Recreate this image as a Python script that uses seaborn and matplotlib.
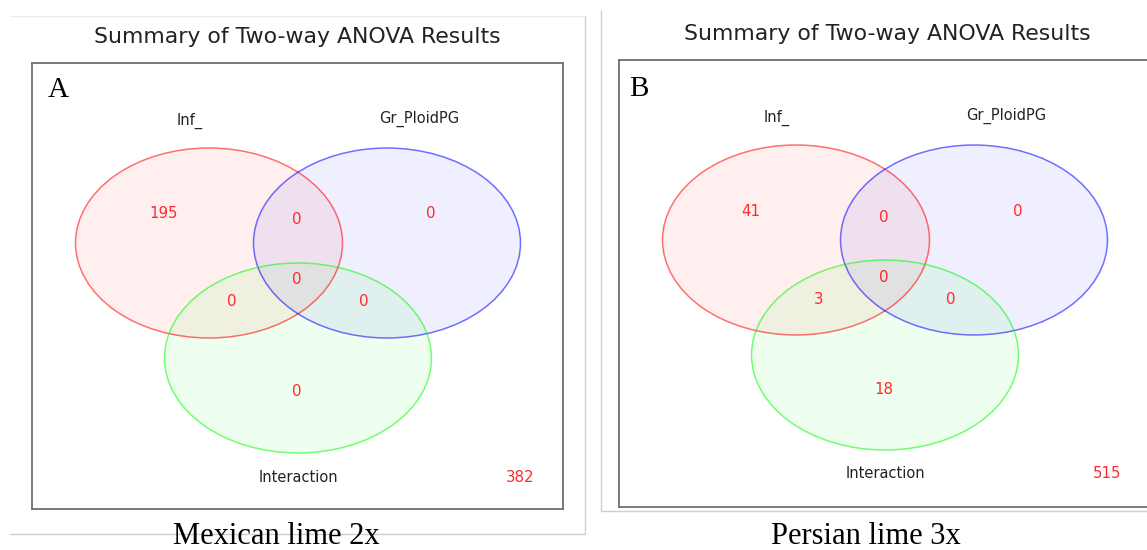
"""
Two-panel Venn summary of two-way ANOVA results (Mexican lime 2x / Persian lime 3x)
"""

import numpy as np
import matplotlib
matplotlib.use("Agg")
import matplotlib.pyplot as plt
from matplotlib.patches import Ellipse
import seaborn as sns

# ---- data ----
panel_letters = ["A", "B"]
cultivars = ["Mexican lime 2x", "Persian lime 3x"]
set_names = ["Inf_", "Gr_PloidPG", "Interaction"]
# region order: Inf_ only, Gr only, Inf_&Gr, Interaction only, Inf_&Int, Gr&Int, all three
region_keys = ["100", "010", "110", "001", "101", "011", "111"]
counts_mexican = [195, 0, 0, 0, 0, 0, 0]
counts_persian = [41, 0, 0, 18, 3, 0, 0]
outside_counts = [382, 515]
plot_title = "Summary of Two-way ANOVA Results"

sns.set_theme(style="white")
plt.rcParams['font.family'] = ['DejaVu Sans']

W, H = 1147, 550
fig = plt.figure(figsize=(W / 100, H / 100), dpi=100)


def px_rect(x0, y0, x1, y1):
    return [x0 / W, 1 - y1 / H, (x1 - x0) / W, (y1 - y0) / H]


# background axes in pixel units (frames, titles, captions)
bg = fig.add_axes([0, 0, 1, 1])
bg.set_xlim(0, W)
bg.set_ylim(H, 0)
bg.axis('off')

frame_col = '#cfcfcf'
# left screenshot frame
bg.plot([10, 585], [16, 16], color='#ececec', lw=1)
bg.plot([585, 585], [16, 534], color=frame_col, lw=1)
bg.plot([10, 585], [534, 534], color=frame_col, lw=1)
# right screenshot frame
bg.plot([601, 601, W], [10, 511, 511], color=frame_col, lw=1)

# venn layout (box-relative pixels)
set_colors = sns.color_palette(["#ff0000", "#0000ff", "#00ff00"])
centers = {"Inf_": (177, 180), "Gr_PloidPG": (355, 180), "Interaction": (266, 295)}
semi_a, semi_b = 133.5, 95
region_pos = {"100": (132, 151), "010": (399, 151), "110": (265, 157),
              "001": (265, 329), "101": (200, 239), "011": (332, 239),
              "111": (265, 217)}
label_pos = {"Inf_": (158, 58), "Gr_PloidPG": (387, 56), "Interaction": (266, 414)}
outside_pos = (488, 414)

boxes = [(32, 63, 563, 509), (619, 60, 1150, 507)]
title_xy = [(297, 37), (887, 34)]
caption_xy = [(276, 537), (866, 537)]
letter_xy = [(16, 27), (10, 29)]
all_counts = [counts_mexican, counts_persian]

num_col = '#ff2a2a'
for i in range(2):
    x0, y0, x1, y1 = boxes[i]
    bw, bh = x1 - x0, y1 - y0
    ax = fig.add_axes(px_rect(x0, y0, x1, y1))
    ax.set_xlim(0, bw)
    ax.set_ylim(bh, 0)
    ax.set_xticks([])
    ax.set_yticks([])
    for s in ax.spines.values():
        s.set_color('#707070')
        s.set_linewidth(1.3)

    for name, col in zip(set_names, set_colors):
        cx, cy = centers[name]
        ax.add_patch(Ellipse((cx, cy), 2 * semi_a, 2 * semi_b,
                             facecolor=(*col, 0.062), edgecolor='none', zorder=1))
        ax.add_patch(Ellipse((cx, cy), 2 * semi_a, 2 * semi_b,
                             facecolor='none', edgecolor=(*col, 0.55), lw=1.1, zorder=2))
        lx, ly = label_pos[name]
        ax.text(lx, ly, name, ha='center', va='center', fontsize=10.5,
                color='#222222', zorder=3)

    for key, val in zip(region_keys, all_counts[i]):
        rx, ry = region_pos[key]
        ax.text(rx, ry, str(val), ha='center', va='center', fontsize=10.8,
                color=num_col, zorder=3)
    ax.text(*outside_pos, str(outside_counts[i]), ha='center', va='center',
            fontsize=10.8, color=num_col, zorder=3)
    ax.text(*letter_xy[i], panel_letters[i], ha='left', va='center', fontsize=21,
            family='Liberation Serif', color='black', zorder=3)

    bg.text(*title_xy[i], plot_title, ha='center', va='center', fontsize=15.8,
            color='#222222')
    bg.text(*caption_xy[i], cultivars[i], ha='center', va='center', fontsize=22,
            family='Liberation Serif', color='black')

fig.savefig("out.png", dpi=100)
